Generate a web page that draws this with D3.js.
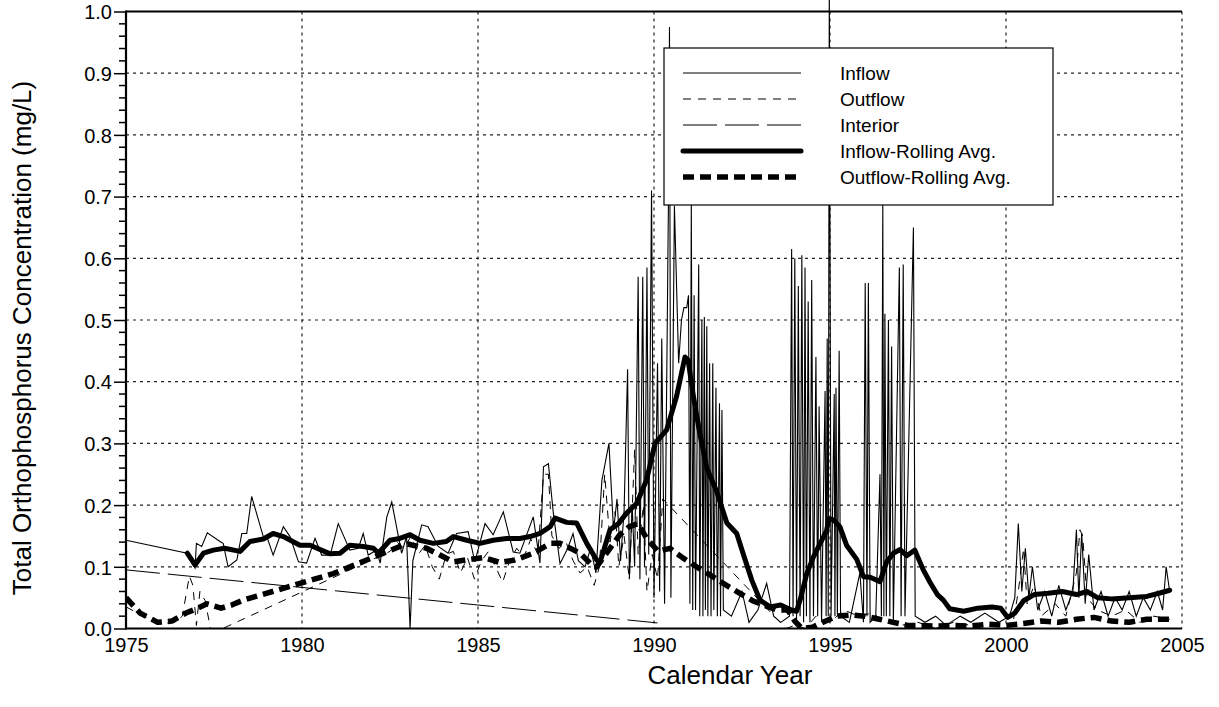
<!DOCTYPE html>
<html><head><meta charset="utf-8">
<script src="https://cdn.jsdelivr.net/npm/d3@7/dist/d3.min.js"></script>
<style>
body{margin:0;background:#fff}
svg{display:block}
text{font-family:"Liberation Sans",Arial,Helvetica,sans-serif;fill:#000}
</style>
</head><body>
<svg id="chart" width="1219" height="707"></svg>
<script>
// ---------- data ----------
const xTickValues = [1975, 1980, 1985, 1990, 1995, 2000, 2005];
const yTickValues = [0, 0.1, 0.2, 0.3, 0.4, 0.5, 0.6, 0.7, 0.8, 0.9, 1.0];
const xTitle = "Calendar Year";
const yTitle = "Total Orthophosphorus Concentration (mg/L)";
const seriesNames = ["Inflow", "Outflow", "Interior", "Inflow-Rolling Avg.", "Outflow-Rolling Avg."];

const inflow = [
[1975.0,0.143],[1976.74,0.122],[1976.96,0.098],[1977.0,0.138],[1977.15,0.133],[1977.31,0.155],[1977.67,0.141],[1977.76,0.138],[1977.9,0.100],[1978.15,0.111],[1978.29,0.154],[1978.43,0.154],[1978.57,0.214],[1978.9,0.149],[1979.0,0.149],[1979.18,0.119],[1979.47,0.165],[1979.66,0.149],[1979.9,0.108],[1980.13,0.106],[1980.37,0.146],[1980.56,0.119],[1980.8,0.119],[1981.03,0.170],[1981.36,0.127],[1981.6,0.130],[1981.74,0.154],[1981.88,0.119],[1982.12,0.127],[1982.22,0.106],[1982.41,0.181],[1982.55,0.205],[1982.83,0.122],[1982.97,0.149],[1983.07,0.0],[1983.15,0.11],[1983.4,0.168],[1983.58,0.165],[1983.87,0.133],[1984.15,0.122],[1984.39,0.154],[1984.72,0.157],[1984.91,0.108],[1985.2,0.170],[1985.43,0.152],[1985.72,0.189],[1986.0,0.124],[1986.19,0.122],[1986.57,0.181],[1986.76,0.106],[1986.86,0.262],[1987.0,0.267],[1987.14,0.187],[1987.33,0.105],[1987.55,0.130],[1987.7,0.154],[1987.85,0.110],[1988.04,0.100],[1988.2,0.130],[1988.35,0.090],[1988.52,0.240],[1988.72,0.300],[1988.85,0.160],[1988.95,0.210],[1989.05,0.110],[1989.15,0.190],[1989.25,0.420],[1989.3,0.080],[1989.38,0.200],[1989.45,0.100],[1989.55,0.570],[1989.6,0.080],[1989.68,0.570],[1989.73,0.100],[1989.8,0.585],[1989.85,0.120],[1989.93,0.710],[1990.0,0.050],[1990.1,0.430],[1990.16,0.060],[1990.22,0.470],[1990.3,0.040],[1990.41,0.690],[1990.44,0.975],[1990.48,0.050],[1990.58,0.685],[1990.7,0.430],[1990.78,0.500],[1990.85,0.520],[1990.93,0.520],[1990.98,0.540],[1991.02,0.040],[1991.06,0.690],[1991.1,0.030],[1991.14,0.540],[1991.18,0.030],[1991.27,0.590],[1991.3,0.020],[1991.36,0.500],[1991.39,0.020],[1991.43,0.505],[1991.46,0.030],[1991.5,0.490],[1991.53,0.020],[1991.58,0.430],[1991.62,0.020],[1991.67,0.430],[1991.7,0.030],[1991.76,0.390],[1991.8,0.020],[1991.86,0.365],[1991.89,0.020],[1991.93,0.354],[1991.97,0.030],[1992.2,0.020],[1992.5,0.060],[1992.7,0.010],[1992.95,0.030],[1993.2,0.073],[1993.4,0.020],[1993.6,0.010],[1993.85,0.020],
[1993.91,0.615],[1993.95,0.020],[1994.0,0.600],[1994.05,0.010],[1994.1,0.555],[1994.15,0.020],[1994.2,0.605],[1994.25,0.010],[1994.29,0.585],[1994.33,0.020],[1994.38,0.530],[1994.43,0.010],[1994.48,0.565],[1994.53,0.020],[1994.6,0.440],[1994.65,0.020],[1994.69,0.360],[1994.76,0.010],[1994.86,0.385],[1994.89,0.020],[1994.92,0.470],[1994.95,0.020],[1994.98,1.050],[1995.03,0.020],[1995.12,0.380],[1995.14,0.020],[1995.17,0.390],[1995.21,0.020],[1995.26,0.450],[1995.3,0.020],[1995.55,0.010],[1995.85,0.090],[1995.95,0.010],
[1996.0,0.560],[1996.05,0.020],[1996.09,0.560],[1996.14,0.010],[1996.3,0.020],[1996.42,0.250],[1996.46,0.020],[1996.5,0.690],[1996.53,0.020],[1996.56,0.510],[1996.6,0.020],[1996.66,0.500],[1996.7,0.020],[1996.75,0.457],[1996.8,0.010],[1996.97,0.585],[1997.02,0.020],[1997.08,0.590],[1997.13,0.020],[1997.37,0.650],[1997.42,0.020],
[1997.7,0.010],[1998.0,0.020],[1998.3,0.005],[1998.7,0.020],[1999.0,0.010],[1999.4,0.025],[1999.8,0.010],[2000.1,0.020],[2000.25,0.050],[2000.35,0.170],[2000.45,0.060],[2000.55,0.130],[2000.65,0.050],[2000.75,0.100],[2000.9,0.030],[2001.1,0.060],[2001.3,0.020],[2001.5,0.070],[2001.7,0.030],[2001.9,0.060],[2002.0,0.160],[2002.07,0.050],[2002.15,0.155],[2002.25,0.040],[2002.35,0.120],[2002.5,0.030],[2002.7,0.060],[2002.9,0.020],[2003.1,0.050],[2003.3,0.030],[2003.5,0.060],[2003.7,0.020],[2003.9,0.050],[2004.1,0.030],[2004.3,0.060],[2004.45,0.030],[2004.55,0.100],[2004.65,0.060]
];

const outflow = [
[1975.0,0.035],[1975.5,0.020],[1976.0,0.008],[1976.4,0.010],[1976.6,0.020],[1976.8,0.085],[1976.9,0.070],[1977.0,0.005],[1977.1,0.060],[1977.25,0.045],[1977.4,0.0],[1977.75,0.0],[1982.5,0.125],[1982.7,0.140],[1982.9,0.130],[1983.1,0.150],[1983.3,0.120],[1983.5,0.135],[1983.7,0.100],[1983.9,0.080],[1984.1,0.120],[1984.3,0.125],[1984.5,0.090],[1984.7,0.115],[1984.9,0.080],[1985.1,0.110],[1985.3,0.125],[1985.5,0.100],[1985.7,0.075],[1985.9,0.110],[1986.1,0.130],[1986.3,0.115],[1986.5,0.145],[1986.7,0.120],[1986.86,0.250],[1987.0,0.250],[1987.1,0.150],[1987.3,0.130],[1987.5,0.140],[1987.7,0.110],[1987.9,0.090],[1988.1,0.100],[1988.3,0.070],[1988.45,0.100],[1988.6,0.250],[1988.75,0.140],[1988.9,0.190],[1989.0,0.100],[1989.15,0.150],[1989.3,0.080],[1989.45,0.290],[1989.55,0.120],[1989.7,0.200],[1989.8,0.060],[1989.95,0.120],[1990.1,0.080],[1990.25,0.210],[1993.75,0.0],[1994.0,0.005],[1994.3,0.0],[1994.6,0.020],[1995.0,0.010],[1995.4,0.030],[1995.8,0.020],[1996.2,0.025],[1996.6,0.010],[1997.0,0.005],[1997.5,0.010],[1998.0,0.0],[1998.5,0.010],[1999.0,0.005],[1999.5,0.010],[2000.0,0.0],[2000.2,0.010],[2000.35,0.060],[2000.5,0.130],[2000.6,0.040],[2000.8,0.070],[2001.0,0.020],[2001.4,0.040],[2001.7,0.020],[2002.0,0.090],[2002.1,0.160],[2002.18,0.150],[2002.3,0.050],[2002.6,0.030],[2003.0,0.020],[2003.4,0.030],[2003.8,0.010],[2004.2,0.020],[2004.65,0.015]
];

const interior = [[1975.0,0.095],[1990.1,0.009]];

const inflowAvg = [
[1976.74,0.122],[1976.96,0.103],[1977.2,0.122],[1977.48,0.127],[1977.8,0.130],[1978.24,0.125],[1978.52,0.141],[1978.9,0.145],[1979.18,0.154],[1979.47,0.149],[1979.94,0.135],[1980.23,0.135],[1980.8,0.121],[1981.08,0.122],[1981.36,0.135],[1981.74,0.133],[1982.03,0.130],[1982.17,0.122],[1982.5,0.143],[1982.78,0.146],[1983.07,0.152],[1983.35,0.143],[1983.73,0.138],[1984.1,0.141],[1984.3,0.149],[1984.68,0.143],[1985.06,0.138],[1985.43,0.143],[1985.81,0.146],[1986.19,0.146],[1986.48,0.149],[1986.76,0.154],[1987.05,0.165],[1987.19,0.179],[1987.52,0.172],[1987.8,0.171],[1988.09,0.138],[1988.37,0.111],[1988.47,0.108],[1988.75,0.160],[1988.99,0.170],[1989.22,0.187],[1989.51,0.203],[1989.79,0.241],[1990.03,0.300],[1990.36,0.322],[1990.64,0.376],[1990.88,0.440],[1990.97,0.435],[1991.12,0.376],[1991.3,0.316],[1991.5,0.260],[1991.78,0.222],[1992.07,0.171],[1992.35,0.154],[1992.54,0.120],[1992.78,0.078],[1993.01,0.046],[1993.3,0.035],[1993.6,0.038],[1993.9,0.030],[1994.05,0.028],[1994.15,0.046],[1994.34,0.089],[1994.53,0.116],[1994.72,0.138],[1994.9,0.158],[1994.97,0.178],[1995.1,0.176],[1995.28,0.165],[1995.47,0.135],[1995.76,0.112],[1995.95,0.084],[1996.14,0.083],[1996.42,0.076],[1996.61,0.108],[1996.8,0.122],[1996.99,0.128],[1997.18,0.118],[1997.41,0.127],[1997.65,0.095],[1997.84,0.075],[1998.05,0.055],[1998.22,0.046],[1998.4,0.032],[1998.8,0.028],[1999.2,0.033],[1999.6,0.035],[1999.85,0.033],[2000.05,0.018],[2000.25,0.025],[2000.5,0.045],[2000.8,0.055],[2001.2,0.057],[2001.6,0.060],[2002.0,0.055],[2002.3,0.060],[2002.6,0.050],[2003.0,0.048],[2003.5,0.050],[2004.0,0.052],[2004.4,0.058],[2004.65,0.062]
];

const outflowAvg = [
[1975.0,0.050],[1975.4,0.025],[1975.9,0.010],[1976.3,0.012],[1976.7,0.025],[1977.0,0.032],[1977.3,0.040],[1977.7,0.033],[1978.0,0.038],[1978.33,0.046],[1979.94,0.073],[1980.89,0.089],[1981.84,0.111],[1982.78,0.133],[1983.0,0.137],[1983.54,0.130],[1983.92,0.119],[1984.3,0.108],[1984.77,0.112],[1985.15,0.115],[1985.63,0.107],[1986.05,0.111],[1986.57,0.122],[1986.81,0.130],[1987.05,0.138],[1987.33,0.138],[1987.52,0.133],[1987.9,0.122],[1988.18,0.106],[1988.37,0.100],[1988.75,0.130],[1989.03,0.152],[1989.3,0.165],[1989.55,0.170],[1989.79,0.146],[1990.12,0.125],[1990.45,0.130],[1990.83,0.114],[1991.21,0.100],[1991.59,0.087],[1991.97,0.073],[1992.44,0.057],[1992.8,0.045],[1993.1,0.038],[1993.5,0.030],[1993.8,0.030],[1994.0,0.012],[1994.2,0.0],[1994.5,0.002],[1994.8,0.010],[1995.2,0.020],[1995.6,0.022],[1996.0,0.020],[1996.4,0.015],[1996.8,0.010],[1997.2,0.005],[1997.6,0.005],[1998.0,0.004],[1998.5,0.005],[1999.0,0.004],[1999.5,0.007],[2000.0,0.005],[2000.5,0.008],[2001.0,0.012],[2001.5,0.010],[2002.0,0.015],[2002.5,0.018],[2003.0,0.012],[2003.5,0.010],[2004.0,0.015],[2004.65,0.015]
];

// ---------- layout ----------
const W = 1219, H = 707;
const m = {left: 126, right: 1182, top: 11.5, bottom: 628.5};
const svg = d3.select("#chart");
const x = d3.scaleLinear().domain([1975, 2005]).range([m.left, m.right]);
const y = d3.scaleLinear().domain([0, 1]).range([m.bottom, m.top]);

// grid
const grid = svg.append("g").attr("stroke", "#222").attr("stroke-width", 1.2).attr("stroke-dasharray", "3,4").attr("fill", "none");
grid.selectAll("line.h").data(yTickValues.filter(d => d > 0 && d < 1)).enter().append("line")
  .attr("x1", m.left).attr("x2", m.right).attr("y1", d => y(d)).attr("y2", d => y(d));
grid.selectAll("line.v").data(xTickValues.filter(d => d > 1975)).enter().append("line")
  .attr("y1", m.top).attr("y2", m.bottom).attr("x1", d => x(d)).attr("x2", d => x(d));

// clip
svg.append("clipPath").attr("id", "clip").append("rect")
  .attr("x", m.left).attr("y", -50).attr("width", m.right - m.left).attr("height", m.bottom + 50);

const line = d3.line().x(d => x(d[0])).y(d => y(d[1]));
const plot = svg.append("g").attr("clip-path", "url(#clip)").attr("fill", "none").attr("stroke", "#000");

plot.append("path").datum(interior).attr("d", line).attr("stroke-width", 1).attr("stroke-dasharray", "34,8");
plot.append("path").datum(outflow).attr("d", line).attr("stroke-width", 1).attr("stroke-dasharray", "8,7");
plot.append("path").datum(inflow).attr("d", line).attr("stroke-width", 1.1);
plot.append("path").datum(outflowAvg).attr("d", line).attr("stroke-width", 5.5).attr("stroke-dasharray", "11,6").attr("stroke-linejoin", "round");
plot.append("path").datum(inflowAvg).attr("d", line).attr("stroke-width", 5).attr("stroke-linejoin", "round").attr("stroke-linecap", "round");

// axes
const yAxis = d3.axisLeft(y).tickValues(yTickValues).tickFormat(d3.format(".1f")).tickSize(12).tickPadding(2);
const gy = svg.append("g").attr("transform", `translate(${m.left},0)`).call(yAxis);
gy.select(".domain").remove();
gy.selectAll(".tick line").attr("stroke", "#000").attr("stroke-width", 1.5);
gy.selectAll(".tick text").style("font-size", "20px").attr("dy", "0.36em");
const yMinor = d3.range(0, 1.0001, 0.02).filter(v => Math.round(v * 100) % 10 !== 0);
svg.append("g").selectAll("line").data(yMinor).enter().append("line")
  .attr("x1", m.left - 7).attr("x2", m.left).attr("y1", d => y(d)).attr("y2", d => y(d))
  .attr("stroke", "#000").attr("stroke-width", 1.5);

const xAxis = d3.axisBottom(x).tickValues(xTickValues).tickFormat(d3.format("d")).tickSize(0).tickPadding(9);
const gx = svg.append("g").attr("transform", `translate(0,${m.bottom})`).call(xAxis);
gx.select(".domain").remove();
gx.selectAll(".tick text").style("font-size", "20px");

// frame lines
svg.append("line").attr("x1", m.left).attr("x2", m.left).attr("y1", m.top - 1).attr("y2", m.bottom + 1).attr("stroke", "#000").attr("stroke-width", 2.2);
svg.append("line").attr("x1", m.left).attr("x2", m.right).attr("y1", m.top).attr("y2", m.top).attr("stroke", "#000").attr("stroke-width", 2.2);
svg.append("line").attr("x1", m.left).attr("x2", m.right).attr("y1", m.bottom).attr("y2", m.bottom).attr("stroke", "#000").attr("stroke-width", 2.2);

// titles
svg.append("text").attr("x", 730).attr("y", 684).attr("text-anchor", "middle").style("font-size", "26px").text(xTitle);
svg.append("text").attr("transform", `translate(31,${338}) rotate(-90)`).attr("text-anchor", "middle").style("font-size", "26px").text(yTitle);

// legend
const lg = svg.append("g");
lg.append("rect").attr("x", 664).attr("y", 48).attr("width", 389).attr("height", 157).attr("fill", "#fff").attr("stroke", "#000").attr("stroke-width", 1.2);
const legStyles = [
  {w: 1, dash: null},
  {w: 1, dash: "8,7"},
  {w: 1, dash: "34,8"},
  {w: 5, dash: null, cap: "round"},
  {w: 5.5, dash: "11,6", cap: "butt"}
];
seriesNames.forEach((name, i) => {
  const cy = 73 + i * 26;
  const s = legStyles[i];
  const l = lg.append("line").attr("x1", 683).attr("x2", 801).attr("y1", cy).attr("y2", cy)
    .attr("stroke", "#000").attr("stroke-width", s.w);
  if (s.dash) l.attr("stroke-dasharray", s.dash);
  if (s.cap) l.attr("stroke-linecap", s.cap);
  lg.append("text").attr("x", 840).attr("y", cy + 7).style("font-size", "19px").text(name);
});
</script>
</body></html>
